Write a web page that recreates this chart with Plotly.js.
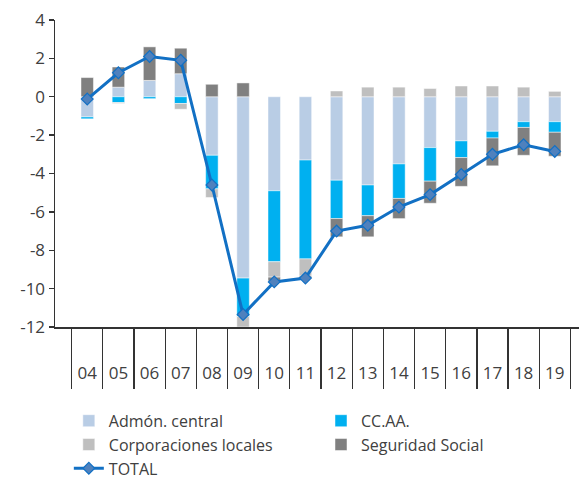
<!DOCTYPE html>
<html>
<head>
<meta charset="utf-8">
<script src="https://cdn.plot.ly/plotly-3.0.1.min.js"></script>
<style>
html,body{margin:0;padding:0;overflow:hidden;background:#fff;}
#chart{width:587px;height:479px;}
</style>
</head>
<body>
<div id="chart"></div>
<script>
var years = ["04","05","06","07","08","09","10","11","12","13","14","15","16","17","18","19"];
var admonCentral = [-1.05, 0.5, 0.85, 1.2, -3.05, -9.45, -4.9, -3.3, -4.35, -4.6, -3.5, -2.65, -2.3, -1.8, -1.3, -1.3];
var ccaa = [-0.1, -0.3, -0.1, -0.35, -1.75, -2.0, -3.7, -5.15, -2.0, -1.6, -1.8, -1.75, -0.87, -0.35, -0.3, -0.55];
var corpLocales = [0, -0.05, 0, -0.3, -0.45, -0.55, -0.8, -0.9, 0.3, 0.5, 0.5, 0.43, 0.56, 0.56, 0.5, 0.28];
var seguridadSocial = [1.0, 1.05, 1.75, 1.33, 0.65, 0.72, -0.2, -0.1, -0.95, -1.1, -1.05, -1.15, -1.5, -1.45, -1.45, -1.25];
var total = [-0.12, 1.25, 2.1, 1.9, -4.6, -11.35, -9.65, -9.45, -7.0, -6.7, -5.75, -5.1, -4.05, -3.0, -2.5, -2.85];
var yTickVals = [4, 2, 0, -2, -4, -6, -8, -10, -12];
var yTickText = ["4", "2", "0", "-2", "-4", "-6", "-8", "-10", "-12"];

var barLine = {color: "rgba(255,255,255,0.8)", width: 0.6};
function barTrace(name, vals, color, leg) {
  return {type: "bar", name: name, x: years, y: vals, legend: leg,
          marker: {color: color, line: barLine}, hoverinfo: "x+y+name"};
}
var data = [
  barTrace("Admón. central", admonCentral, "#B9CDE5", "legend"),
  barTrace("CC.AA.", ccaa, "#00B0F0", "legend2"),
  barTrace("Corporaciones locales", corpLocales, "#BFBFBF", "legend"),
  barTrace("Seguridad Social", seguridadSocial, "#808080", "legend2"),
  {type: "scatter", mode: "lines+markers", name: "TOTAL", x: years, y: total, legend: "legend",
   line: {color: "#1270C4", width: 3},
   marker: {symbol: "diamond", size: 9, color: "#4F81BD", line: {color: "#1270C4", width: 1.2}}}
];

var fontFam = "'Open Sans', 'Noto Sans', sans-serif";
var legBase = {orientation: "v", xanchor: "left", yref: "container", y: 0.157, yanchor: "top",
               traceorder: "normal", font: {size: 16, color: "#404040"},
               tracegroupgap: 0, itemwidth: 30, bgcolor: "rgba(0,0,0,0)"};
var layout = {
  width: 587, height: 479,
  margin: {l: 55, r: 0, t: 20, b: 152},
  barmode: "relative",
  bargap: 0.6,
  paper_bgcolor: "#fff", plot_bgcolor: "#fff",
  font: {family: fontFam, color: "#404040", size: 15},
  showlegend: true,
  legend: Object.assign({}, legBase, {x: 0.026}),
  legend2: Object.assign({}, legBase, {x: 0.5}),
  xaxis: {type: "category", tickson: "boundaries", ticks: "outside", ticklen: 60,
          tickwidth: 1.3, tickcolor: "#333", showline: true, linecolor: "#333",
          linewidth: 1.5, showgrid: false, zeroline: false, ticklabelstandoff: 30,
          tickfont: {size: 17, color: "#404040"}},
  yaxis: {range: [-12, 4], tickvals: yTickVals, ticktext: yTickText, ticks: "outside", ticklen: 5,
          tickwidth: 1.3, tickcolor: "#333", showline: true, linecolor: "#333",
          linewidth: 1.5, showgrid: false, zeroline: false,
          tickfont: {size: 17, color: "#404040"}}
};
Plotly.newPlot("chart", data, layout, {displayModeBar: false, staticPlot: true});
</script>
</body>
</html>
